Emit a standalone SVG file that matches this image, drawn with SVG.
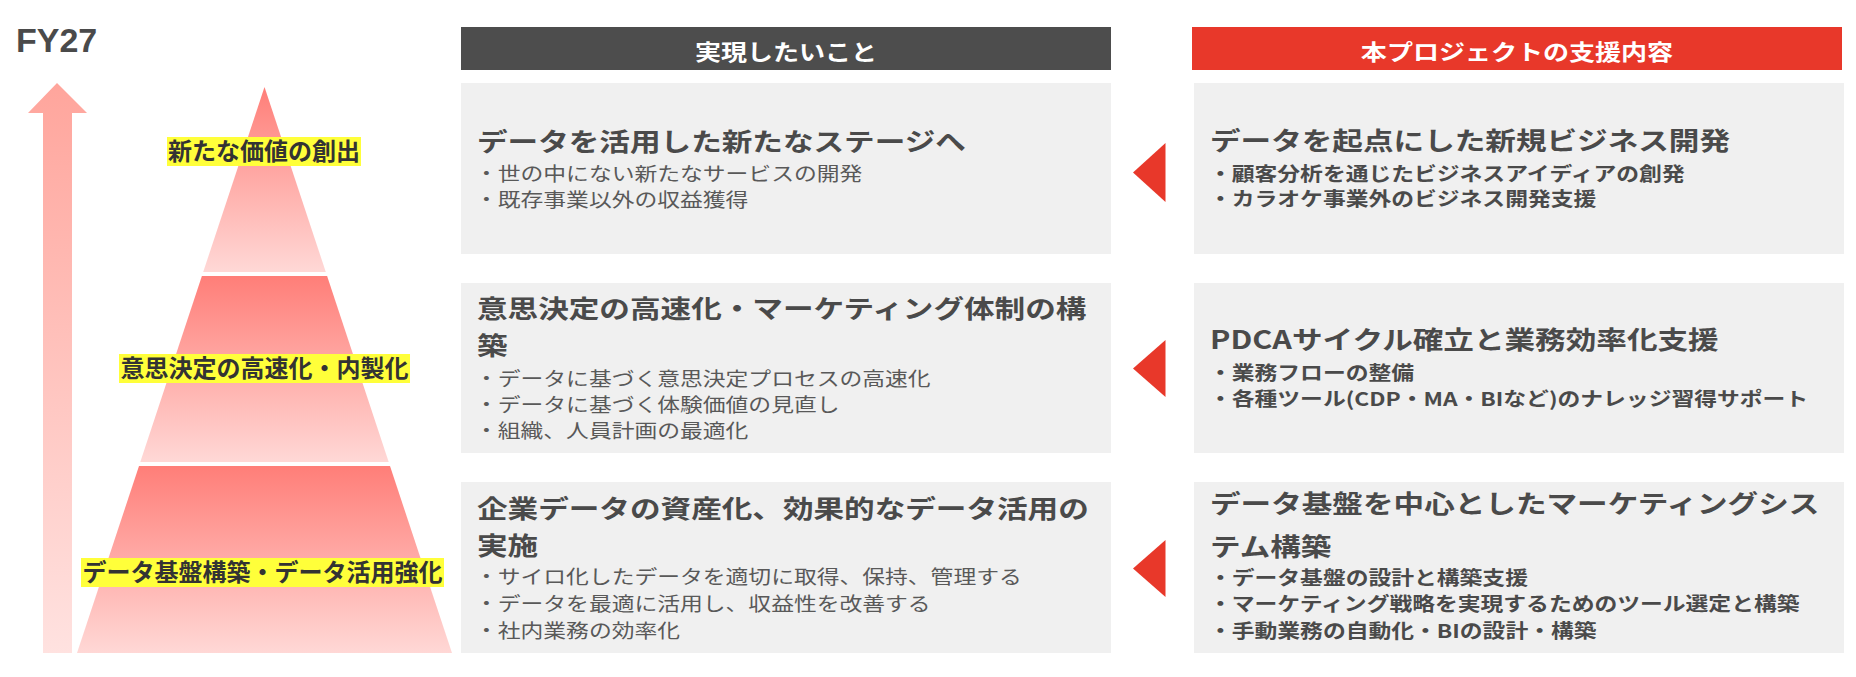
<svg xmlns="http://www.w3.org/2000/svg" width="1856" height="677" viewBox="0 0 1856 677">
<style>
.jp{font-family:"Noto Sans CJK JP","Noto Sans",sans-serif}
.fy{font-family:"Liberation Sans",Arial,sans-serif;font-weight:bold;font-size:34px;fill:#4a4a4a}
.lbl{font-weight:bold;font-size:24px;fill:#333333;text-anchor:middle}
.hl{fill:#FFFF3A}
.hdr{font-weight:bold;font-size:21.7px;fill:#ffffff;text-anchor:middle}
.box{fill:#F0F0F0}
.ttl{font-weight:bold;font-size:25.5px;fill:#4a4a4a}
.bl{font-size:19px;fill:#595959}
.rbl{font-weight:bold;font-size:19px;fill:#4a4a4a}
.tri{fill:#E8382A}
</style>
<defs>
<linearGradient id="gArrow" x1="0" y1="0" x2="0" y2="1">
<stop offset="0" stop-color="#FFA59C"/>
<stop offset="1" stop-color="#FFE2E0"/>
</linearGradient>
<linearGradient id="gLayer" x1="0" y1="0" x2="0" y2="1">
<stop offset="0" stop-color="#FF7E78"/>
<stop offset="1" stop-color="#FFD8D6"/>
</linearGradient>
</defs>
<rect width="1856" height="677" fill="#ffffff"/>

<g id="fy27">
<text class="fy" x="16" y="52">FY27</text>
</g>

<g id="growth-arrow">
<polygon points="57,83 87,113 72,113 72,653 43,653 43,113 28,113" fill="url(#gArrow)"/>
</g>

<g id="pyramid">
<g id="layer-top">
<polygon points="264.5,87 325.8,272 203.2,272" fill="url(#gLayer)"/>
<rect class="hl" x="167" y="137" width="194" height="29"/>
<text class="jp lbl" x="264" y="160">新たな価値の創出</text>
</g>
<g id="layer-mid">
<polygon points="201.9,276 327.1,276 388.7,462 140.3,462" fill="url(#gLayer)"/>
<rect class="hl" x="119" y="354" width="291" height="29"/>
<text class="jp lbl" x="264.5" y="377">意思決定の高速化・内製化</text>
</g>
<g id="layer-base">
<polygon points="139,466 390,466 452,653 77,653" fill="url(#gLayer)"/>
<rect class="hl" x="81" y="558" width="363" height="29"/>
<text class="jp lbl" x="262.5" y="581">データ基盤構築・データ活用強化</text>
</g>
</g>

<g id="header-goals">
<rect x="461" y="27" width="650" height="43" fill="#4D4D4D"/>
<text class="jp hdr" transform="translate(786,60) scale(1.2,1)">実現したいこと</text>
</g>
<g id="header-support">
<rect x="1192" y="27" width="650" height="43" fill="#E8382A"/>
<text class="jp hdr" transform="translate(1517,60) scale(1.2,1)">本プロジェクトの支援内容</text>
</g>

<g id="goal-1">
<rect class="box" x="461" y="83" width="650" height="171"/>
<text class="jp ttl" transform="translate(477,151) scale(1.2,1)">データを活用した新たなステージへ</text>
<text class="jp bl" transform="translate(475,181) scale(1.2,1)">・世の中にない新たなサービスの開発</text>
<text class="jp bl" transform="translate(475,207) scale(1.2,1)">・既存事業以外の収益獲得</text>
</g>
<g id="goal-2">
<rect class="box" x="461" y="283" width="650" height="170"/>
<text class="jp ttl" transform="translate(477,318) scale(1.2,1)">意思決定の高速化・マーケティング体制の構</text>
<text class="jp ttl" transform="translate(477,355) scale(1.2,1)">築</text>
<text class="jp bl" transform="translate(475,386) scale(1.2,1)">・データに基づく意思決定プロセスの高速化</text>
<text class="jp bl" transform="translate(475,412) scale(1.2,1)">・データに基づく体験価値の見直し</text>
<text class="jp bl" transform="translate(475,438) scale(1.2,1)">・組織、人員計画の最適化</text>
</g>
<g id="goal-3">
<rect class="box" x="461" y="482" width="650" height="171"/>
<text class="jp ttl" transform="translate(477,518) scale(1.2,1)">企業データの資産化、効果的なデータ活用の</text>
<text class="jp ttl" transform="translate(477,555) scale(1.2,1)">実施</text>
<text class="jp bl" transform="translate(475,584) scale(1.2,1)">・サイロ化したデータを適切に取得、保持、管理する</text>
<text class="jp bl" transform="translate(475,611) scale(1.2,1)">・データを最適に活用し、収益性を改善する</text>
<text class="jp bl" transform="translate(475,638) scale(1.2,1)">・社内業務の効率化</text>
</g>

<g id="support-1">
<rect class="box" x="1194" y="83" width="650" height="171"/>
<text class="jp ttl" transform="translate(1210,150) scale(1.2,1)">データを起点にした新規ビジネス開発</text>
<text class="jp rbl" transform="translate(1209,181) scale(1.2,1)">・顧客分析を通じたビジネスアイディアの創発</text>
<text class="jp rbl" transform="translate(1209,206) scale(1.2,1)">・カラオケ事業外のビジネス開発支援</text>
</g>
<g id="support-2">
<rect class="box" x="1194" y="283" width="650" height="170"/>
<text class="jp ttl" transform="translate(1210,349) scale(1.2,1)">PDCAサイクル確立と業務効率化支援</text>
<text class="jp rbl" transform="translate(1209,380) scale(1.2,1)">・業務フローの整備</text>
<text class="jp rbl" transform="translate(1209,406) scale(1.2,1)">・各種ツール(CDP・MA・BIなど)のナレッジ習得サポート</text>
</g>
<g id="support-3">
<rect class="box" x="1194" y="482" width="650" height="171"/>
<text class="jp ttl" transform="translate(1210,513) scale(1.2,1)">データ基盤を中心としたマーケティングシス</text>
<text class="jp ttl" transform="translate(1210,556) scale(1.2,1)">テム構築</text>
<text class="jp rbl" transform="translate(1209,585) scale(1.2,1)">・データ基盤の設計と構築支援</text>
<text class="jp rbl" transform="translate(1209,611) scale(1.2,1)">・マーケティング戦略を実現するためのツール選定と構築</text>
<text class="jp rbl" transform="translate(1209,638) scale(1.2,1)">・手動業務の自動化・BIの設計・構築</text>
</g>

<g id="connectors">
<polygon class="tri" points="1165.5,143 1165.5,202 1133,172.5"/>
<polygon class="tri" points="1165.5,340 1165.5,397 1133,368.5"/>
<polygon class="tri" points="1165.5,540 1165.5,597 1133,568.5"/>
</g>
</svg>
